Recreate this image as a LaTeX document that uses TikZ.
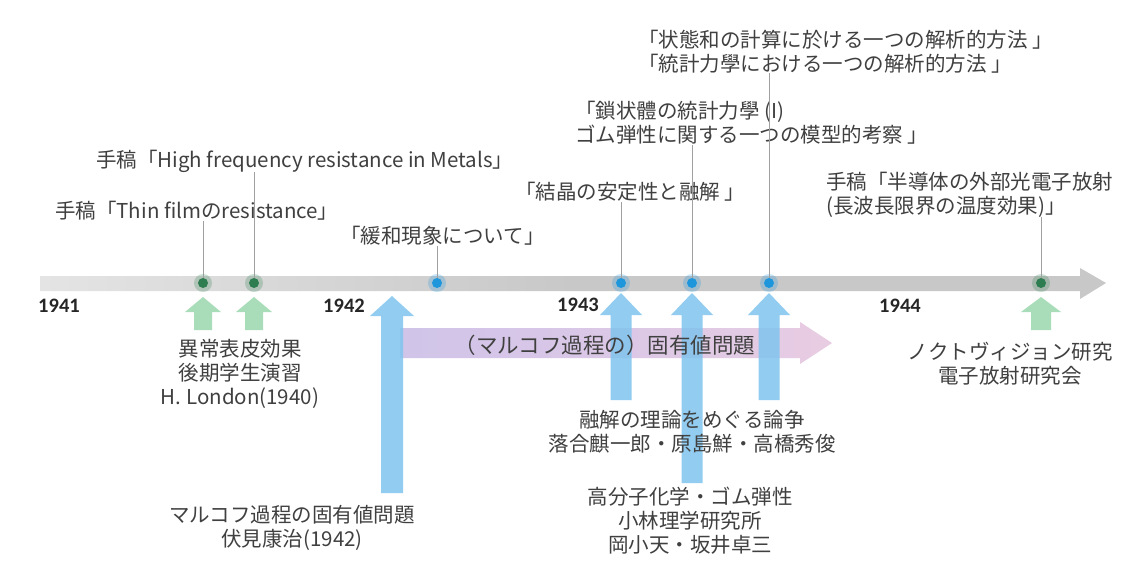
\documentclass[tikz,border=0pt]{standalone}
\usepackage{fontspec}
\setmainfont{Noto Sans CJK JP}
\newfontfamily\yearfont{Carlito}
\definecolor{txtgray}{RGB}{64,64,64}
\definecolor{bargray}{RGB}{200,200,200}
\definecolor{bargraylt}{RGB}{228,228,228}
\definecolor{dotgreen}{RGB}{46,125,80}
\definecolor{dotblue}{RGB}{30,150,220}
\definecolor{arrgreen}{RGB}{160,218,178}
\definecolor{arrblue}{RGB}{128,196,238}
\definecolor{bandl}{RGB}{200,186,230}
\definecolor{bandr}{RGB}{228,196,222}
\definecolor{conngray}{RGB}{160,160,160}
\newcommand\blkup[7]{%
  \fill[#7] (#1-#5,#3) -- (#1-#5,#2+#6) -- (#1-#4,#2+#6) -- (#1,#2) --
    (#1+#4,#2+#6) -- (#1+#5,#2+#6) -- (#1+#5,#3) -- cycle;}
\tikzset{
  lbl/.style={inner sep=0pt, text=txtgray, align=left, font=\fontsize{20.5}{24}\selectfont},
  lblc/.style={inner sep=0pt, text=txtgray, align=center, font=\fontsize{20.5}{24}\selectfont},
  yr/.style={inner sep=0pt, text=black!85, font=\yearfont\bfseries\fontsize{20.5}{22}\selectfont},
  gdot/.style={circle, fill=dotgreen, inner sep=0pt, minimum size=10pt},
  bdot/.style={circle, fill=dotblue, inner sep=0pt, minimum size=10pt},
  conn/.style={draw=conngray, line width=0.8pt},
  greenarr/.style={fill=arrgreen, opacity=0.9},
  bluearr/.style={fill=arrblue, opacity=0.85},
}
\begin{document}
\begin{tikzpicture}[x=1pt, y=-1pt]
\useasboundingbox (0,0) rectangle (1131,560);
\fill[white] (0,0) rectangle (1131,560);

% timeline bar
\shade[left color=bargraylt, right color=bargray, middle color=bargray]
  (40,276) -- (1080,276) -- (1080,268) -- (1106,283) -- (1080,299) -- (1080,291) -- (40,291) -- cycle;

% band arrow
\shade[left color=bandl, right color=bandr, opacity=0.85]
  (400,328) -- (800,328) -- (800,322) -- (832,343) -- (800,364) -- (800,358) -- (400,358) -- cycle;

% year labels
\node[yr] (y41) at (59,306) {1941};
\node[yr] (y42) at (344,306) {1942};
\node[yr] (y43) at (578,305) {1943};
\node[yr] (y44) at (900,306) {1944};

% block arrows
\blkup{203}{297}{330}{18}{9}{15}{greenarr}
\blkup{254}{297}{330}{18}{9}{15}{greenarr}
\blkup{1041}{297}{330}{20}{10}{15}{greenarr}
\blkup{392}{296}{493}{22}{11}{20}{bluearr}
\blkup{621}{293}{400}{21}{10.5}{22}{bluearr}
\blkup{692}{293}{483}{21}{10.5}{22}{bluearr}
\blkup{769}{293}{400}{21}{10.5}{22}{bluearr}

% dots with glow
\foreach \gx in {203,254,1041} \fill[dotgreen, opacity=0.25] (\gx,283) circle (9);
\foreach \bx in {437,621,692,769} \fill[dotblue, opacity=0.25] (\bx,283) circle (9);
\node[gdot] (d1) at (203,283) {};
\node[gdot] (d2) at (254,283) {};
\node[bdot] (d3) at (437,283) {};
\node[bdot] (d4) at (621,283) {};
\node[bdot] (d5) at (692,283) {};
\node[bdot] (d6) at (769,283) {};
\node[gdot] (d7) at (1041,283) {};

% top labels
\node[lbl, anchor=west] (tHF) at (96,161) {手稿「High frequency resistance in Metals」};
\node[lbl, anchor=west] (tTF) at (55,211) {手稿「Thin filmのresistance」};
\node[lbl, anchor=east] (tKW) at (545,236) {「緩和現象について」};
\node[lbl, anchor=west] (tKS) at (515,192) {「結晶の安定性と融解 」};
\node[lbl, anchor=west] (tSJ) at (575,123) {「鎖状體の統計力學 (I)\\ゴム弾性に関する一つの模型的考察 」};
\node[lbl, anchor=west] (tJT) at (638,51.5) {「状態和の計算に於ける一つの解析的方法 」\\「統計力學における一つの解析的方法 」};
\node[lbl, anchor=west] (tHD) at (826,194.5) {手稿「半導体の外部光電子放射\\(長波長限界の温度効果)」};

% connectors
\draw[conn] (d1) -- (d1 |- tTF.south);
\draw[conn] (d2) -- (d2 |- tHF.south);
\draw[conn] (d3) -- (d3 |- tKW.south);
\draw[conn] (d4) -- (d4 |- tKS.south);
\draw[conn] (d5) -- (d5 |- tSJ.south);
\draw[conn] (d6) -- (d6 |- tJT.south);
\draw[conn] (d7) -- (d7 |- tHD.south);

% band text
\node[inner sep=0pt, text=txtgray, font=\fontsize{21.5}{24}\selectfont] (band) at (605,345) {（マルコフ過程の）固有値問題};

% bottom labels
\node[lblc] (bL) at (240,374) {異常表皮効果\\後期学生演習\\H. London(1940)};
\node[lblc] (bM) at (292,528) {マルコフ過程の固有値問題\\伏見康治(1942)};
\node[lblc] (bY) at (692,432) {融解の理論をめぐる論争\\落合麒一郎・原島鮮・高橋秀俊};
\node[lblc] (bK) at (690,521) {高分子化学・ゴム弾性\\小林理学研究所\\岡小天・坂井卓三};
\node[lblc] (bN) at (1010,363.5) {ノクトヴィジョン研究\\電子放射研究会};
\end{tikzpicture}
\end{document}
